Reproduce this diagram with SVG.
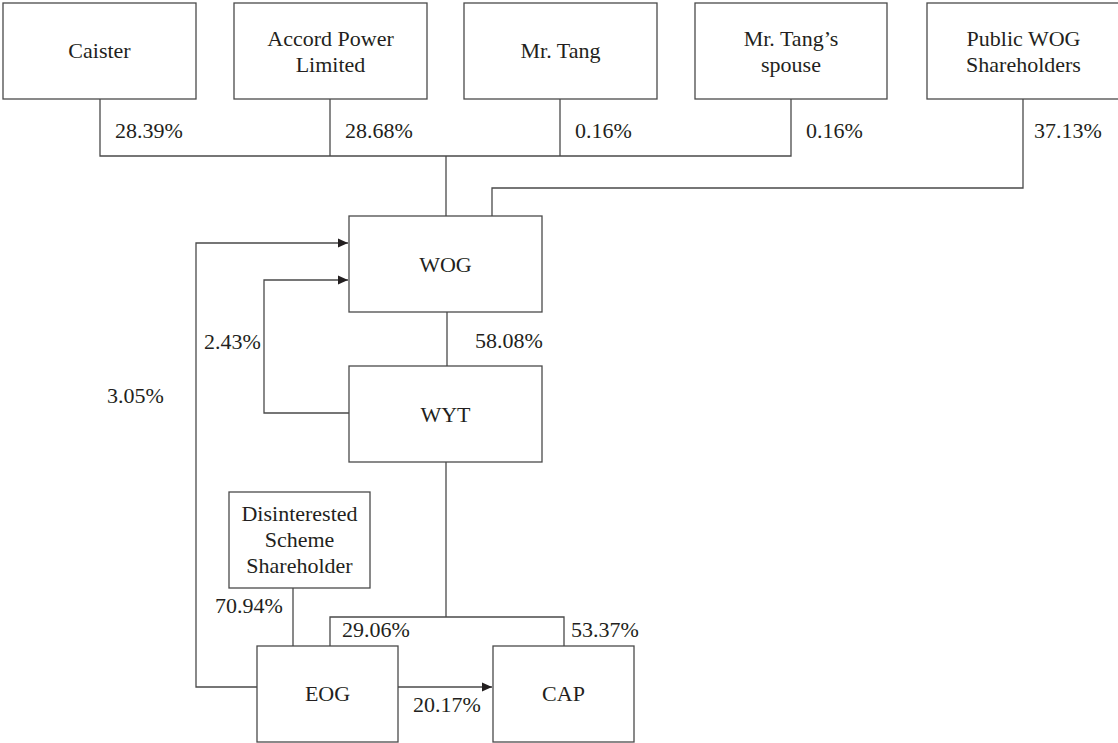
<svg xmlns="http://www.w3.org/2000/svg" width="1118" height="743" viewBox="0 0 1118 743" font-family="'Liberation Serif', Tinos, 'Times New Roman', 'DejaVu Serif', serif">
<defs>
<style>
.box{fill:#fff;stroke:#4a4a4a;stroke-width:1.3}
.ln{fill:none;stroke:#4a4a4a;stroke-width:1.3}
.t{font-family:'Liberation Serif', Tinos, 'Times New Roman', 'DejaVu Serif', serif;font-size:22px;fill:#231f20}
.c{text-anchor:middle}
</style>
<marker id="arr" viewBox="0 0 10 10" refX="10" refY="5" markerWidth="10" markerHeight="10" markerUnits="userSpaceOnUse" orient="auto">
<path d="M0,0.5 L10,5 L0,9.5 Z" fill="#231f20"/>
</marker>
</defs>
<rect width="1118" height="743" fill="#fff"/>
<g id="connectors">
<path class="ln" d="M100,99 V156 H791 V99"/>
<path class="ln" d="M330,99 V156"/>
<path class="ln" d="M560,99 V156"/>
<path class="ln" d="M446,156 V216"/>
<path class="ln" d="M1023,99 V188 H492 V216"/>
<path class="ln" d="M447,312 V366"/>
<path class="ln" d="M349,413 H264 V280 H348" marker-end="url(#arr)"/>
<path class="ln" d="M257,687 H196 V243 H348" marker-end="url(#arr)"/>
<path class="ln" d="M446,462 V617"/>
<path class="ln" d="M330,646 V617 H564 V646"/>
<path class="ln" d="M293,588 V646"/>
<path class="ln" d="M398,687 H492" marker-end="url(#arr)"/>
<text class="t" x="115" y="138">28.39%</text>
<text class="t" x="345" y="138">28.68%</text>
<text class="t" x="575" y="138">0.16%</text>
<text class="t" x="806" y="138">0.16%</text>
<text class="t" x="1034" y="138">37.13%</text>
<text class="t" x="475" y="348">58.08%</text>
<text class="t" x="204" y="349">2.43%</text>
<text class="t" x="107" y="403">3.05%</text>
<text class="t" x="215" y="613">70.94%</text>
<text class="t" x="342" y="637">29.06%</text>
<text class="t" x="571" y="637">53.37%</text>
<text class="t" x="413" y="712">20.17%</text>
</g>
<g id="caister"><rect class="box" x="3" y="3" width="193" height="96"/><text class="t c" x="99.5" y="58">Caister</text></g>
<g id="accord"><rect class="box" x="234" y="3" width="193" height="96"/><text class="t c" x="330.5" y="46">Accord Power</text><text class="t c" x="330.5" y="72">Limited</text></g>
<g id="mrtang"><rect class="box" x="464" y="3" width="193" height="96"/><text class="t c" x="560.5" y="58">Mr. Tang</text></g>
<g id="spouse"><rect class="box" x="695" y="3" width="192" height="96"/><text class="t c" x="791" y="46">Mr. Tang’s</text><text class="t c" x="791" y="72">spouse</text></g>
<g id="public"><rect class="box" x="927" y="3" width="193" height="96"/><text class="t c" x="1023.5" y="46">Public WOG</text><text class="t c" x="1023.5" y="72">Shareholders</text></g>
<g id="wog"><rect class="box" x="349" y="216" width="193" height="96"/><text class="t c" x="445.5" y="272">WOG</text></g>
<g id="wyt"><rect class="box" x="349" y="366" width="193" height="96"/><text class="t c" x="445.5" y="422">WYT</text></g>
<g id="disinterested"><rect class="box" x="229" y="492" width="141" height="96"/><text class="t c" x="299.5" y="521">Disinterested</text><text class="t c" x="299.5" y="547">Scheme</text><text class="t c" x="299.5" y="573">Shareholder</text></g>
<g id="eog"><rect class="box" x="257" y="646" width="141" height="96"/><text class="t c" x="327.5" y="701">EOG</text></g>
<g id="cap"><rect class="box" x="493" y="646" width="141" height="96"/><text class="t c" x="563.5" y="701">CAP</text></g>
</svg>
